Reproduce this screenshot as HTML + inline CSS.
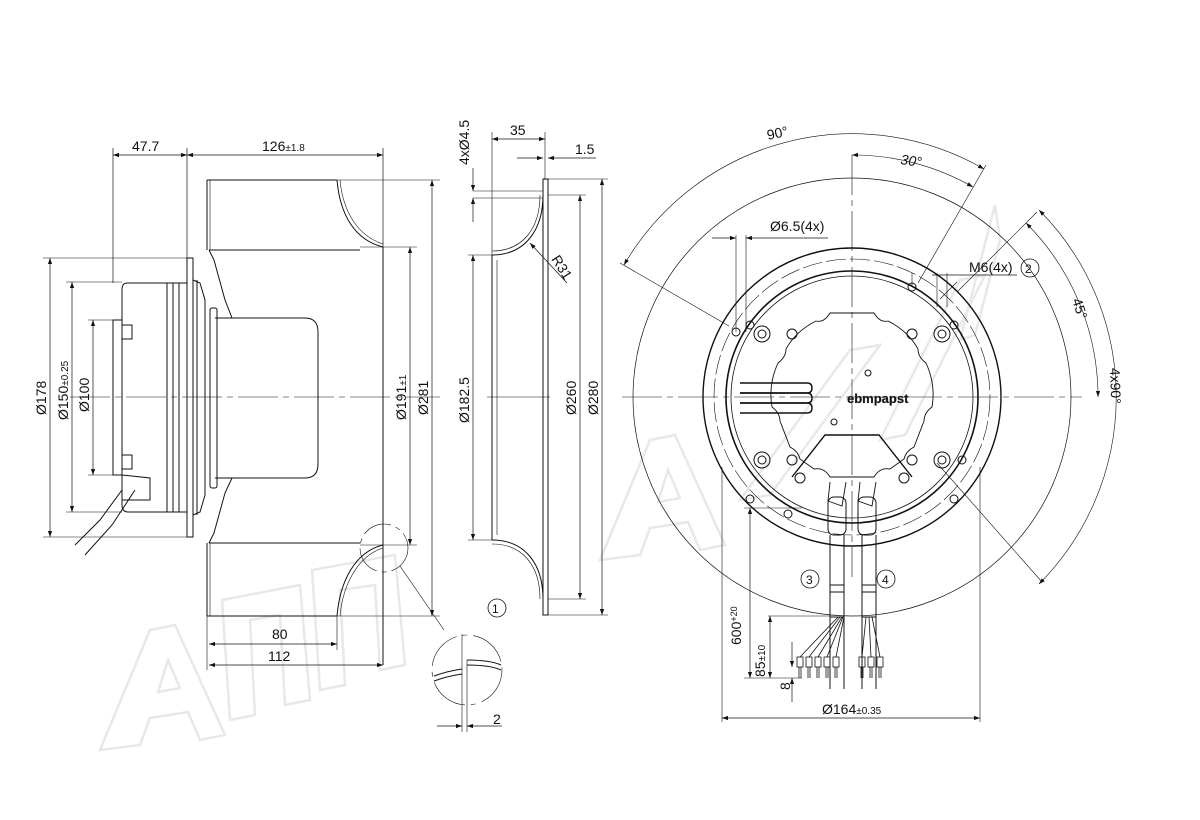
<!DOCTYPE html>
<html><head><meta charset="utf-8"><style>
html,body{margin:0;padding:0;background:#fff;}
svg{display:block;}
text{font-family:"Liberation Sans",sans-serif;fill:#111;}
</style></head><body>
<svg width="1200" height="820" viewBox="0 0 1200 820" xmlns="http://www.w3.org/2000/svg">
<defs>
<marker id="a" viewBox="0 0 10 10" refX="10" refY="5" markerWidth="9" markerHeight="6" orient="auto-start-reverse" markerUnits="userSpaceOnUse"><path d="M0,1.5 L10,5 L0,8.5 Z" fill="#111"/></marker>
</defs>
<!-- watermark -->
<g fill="none" stroke="#e8e8e8" stroke-width="2.5" stroke-linejoin="miter">
<path d="M100,750 L150,630 L175,625 L225,735 L200,740 L188,712 L150,718 L140,745 Z M158,692 L180,688 L168,660 Z"/>
<path d="M230,720 L222,600 L300,585 L310,700 L285,705 L280,615 L250,620 L255,715 Z"/>
<path d="M320,690 L312,570 L395,555 L405,665 L380,670 L375,585 L340,590 L345,685 Z"/>
<path d="M600,560 L650,440 L675,435 L725,545 L700,550 L688,522 L650,528 L640,555 Z M658,502 L680,498 L668,470 Z"/>
<path d="M740,500 L850,350 L880,345 L770,495 Z"/>
<path d="M880,440 L960,280 L985,275 L905,435 Z"/>
<path d="M960,340 L995,205 L1000,240 L975,335 Z"/>
</g>
<g fill="none" stroke="#111" stroke-width="1">
<!-- ===== LEFT VIEW ===== -->
<line x1="113" y1="148" x2="113" y2="283" stroke-width="0.7"/>
<line x1="187" y1="148" x2="187" y2="258" stroke-width="0.7"/>
<line x1="383" y1="148" x2="383" y2="247" stroke-width="0.7"/>
<line x1="113" y1="155" x2="187" y2="155" stroke-width="0.7" marker-start="url(#a)" marker-end="url(#a)"/>
<line x1="187" y1="155" x2="383" y2="155" stroke-width="0.7" marker-start="url(#a)" marker-end="url(#a)"/>
<line x1="207" y1="180" x2="337" y2="180"/>
<path d="M337,180 C340,215 355,240 383,247"/>
<path d="M340,180 C343,212 358,236 383,244" stroke-width="0.6"/>
<line x1="209" y1="250" x2="360" y2="250"/>
<line x1="207" y1="180" x2="207" y2="250"/>
<line x1="210" y1="180" x2="210" y2="250" stroke-width="0.6"/>
<line x1="207" y1="616" x2="337" y2="616"/>
<path d="M337,616 C340,581 355,552 383,545"/>
<path d="M340,616 C343,584 358,556 383,548" stroke-width="0.6"/>
<line x1="209" y1="543" x2="360" y2="543"/>
<line x1="207" y1="543" x2="207" y2="616"/>
<line x1="210" y1="543" x2="210" y2="616" stroke-width="0.6"/>
<line x1="383" y1="247" x2="383" y2="665"/>
<path d="M209,250 L214,260 L225,300 L232,318 L258,318"/>
<path d="M209,543 L214,533 L225,493 L232,478 L258,478"/>
<path d="M215,318 L305,318 Q318,318 318,332 L318,464 Q318,478 305,478 L215,478"/>
<rect x="210" y="308" width="7" height="180" rx="2"/>
<rect x="187" y="258" width="6" height="279"/>
<path d="M193,280 L200,283 L205,300 L205,495 L200,512 L193,515"/>
<line x1="197" y1="280" x2="197" y2="515"/>
<path d="M187,283 L127,283 Q122,283 122,290 L122,505 Q122,512 128,512 L187,512"/>
<line x1="167" y1="283" x2="167" y2="512"/>
<line x1="173" y1="283" x2="173" y2="512"/>
<line x1="179" y1="283" x2="179" y2="512"/>
<rect x="113" y="320" width="9" height="155"/>
<rect x="122" y="325" width="10" height="14"/>
<rect x="122" y="455" width="10" height="14"/>
<path d="M122,475 L150,478 L150,500 L122,500"/>
<path d="M122,490 L100,520 L75,545 M135,490 L112,525 L85,555"/>
<line x1="43" y1="258" x2="187" y2="258" stroke-width="0.6"/>
<line x1="43" y1="537" x2="187" y2="537" stroke-width="0.6"/>
<line x1="50" y1="258" x2="50" y2="537" stroke-width="0.7" marker-start="url(#a)" marker-end="url(#a)"/>
<line x1="66" y1="282" x2="122" y2="282" stroke-width="0.6"/>
<line x1="66" y1="512" x2="122" y2="512" stroke-width="0.6"/>
<line x1="72" y1="282" x2="72" y2="512" stroke-width="0.7" marker-start="url(#a)" marker-end="url(#a)"/>
<line x1="88" y1="320" x2="113" y2="320" stroke-width="0.6"/>
<line x1="88" y1="475" x2="113" y2="475" stroke-width="0.6"/>
<line x1="93" y1="320" x2="93" y2="475" stroke-width="0.7" marker-start="url(#a)" marker-end="url(#a)"/>
<line x1="360" y1="247" x2="417" y2="247" stroke-width="0.6"/>
<line x1="360" y1="545" x2="417" y2="545" stroke-width="0.6"/>
<line x1="410" y1="247" x2="410" y2="545" stroke-width="0.7" marker-start="url(#a)" marker-end="url(#a)"/>
<line x1="337" y1="180" x2="440" y2="180" stroke-width="0.6"/>
<line x1="337" y1="616" x2="440" y2="616" stroke-width="0.6"/>
<line x1="432" y1="180" x2="432" y2="616" stroke-width="0.7" marker-start="url(#a)" marker-end="url(#a)"/>
<line x1="70" y1="397" x2="440" y2="397" stroke-width="0.6" stroke-dasharray="40,5,6,5"/>
<line x1="337" y1="616" x2="337" y2="650" stroke-width="0.6"/>
<line x1="207" y1="616" x2="207" y2="670" stroke-width="0.6"/>
<line x1="209" y1="644" x2="337" y2="644" stroke-width="0.7" marker-start="url(#a)" marker-end="url(#a)"/>
<line x1="209" y1="665" x2="383" y2="665" stroke-width="0.7" marker-start="url(#a)" marker-end="url(#a)"/>
<circle cx="384" cy="548" r="24" stroke-width="0.6" stroke-dasharray="30,5,5,5"/>
<line x1="400" y1="566" x2="444" y2="630" stroke-width="0.6"/>
<circle cx="497" cy="608" r="9" stroke-width="0.8"/>
<circle cx="467" cy="670" r="35" stroke-width="0.6" stroke-dasharray="40,6,5,6"/>
<line x1="462" y1="634" x2="462" y2="732" stroke-width="0.6"/>
<line x1="467" y1="660" x2="467" y2="732" stroke-width="0.6"/>
<path d="M467,660 C480,660 492,661 501,665 M467,665 C480,665 492,666 501,670"/>
<path d="M434,676 C445,672 455,670 462,669 M434,681 C445,677 455,675 462,674"/>
<line x1="437" y1="726" x2="462" y2="726" stroke-width="0.7" marker-end="url(#a)"/>
<line x1="492" y1="726" x2="467" y2="726" stroke-width="0.7" marker-end="url(#a)"/>
<line x1="492" y1="726" x2="502" y2="726" stroke-width="0.7"/>
<!-- ===== MIDDLE VIEW ===== -->
<line x1="492" y1="132" x2="492" y2="255" stroke-width="0.6"/>
<line x1="545" y1="132" x2="545" y2="180" stroke-width="0.6"/>
<line x1="492" y1="139" x2="545" y2="139" stroke-width="0.7" marker-start="url(#a)" marker-end="url(#a)"/>
<line x1="517" y1="158" x2="543" y2="158" stroke-width="0.7" marker-end="url(#a)"/>
<line x1="596" y1="158" x2="548" y2="158" stroke-width="0.7" marker-end="url(#a)"/>
<rect x="543" y="179" width="5" height="436"/>
<path d="M543,195 C543,230 525,255 492,255"/>
<path d="M540,195 C540,228 523,251 492,251" stroke-width="0.6"/>
<path d="M543,599 C543,564 525,540 492,540"/>
<path d="M540,599 C540,566 523,544 492,544" stroke-width="0.6"/>
<line x1="492" y1="255" x2="492" y2="540"/>
<line x1="497" y1="260" x2="497" y2="535" stroke-width="0.6"/>
<line x1="473" y1="191" x2="543" y2="191" stroke-width="0.6"/>
<line x1="473" y1="198" x2="543" y2="198" stroke-width="0.6"/>
<line x1="473" y1="168" x2="473" y2="191" stroke-width="0.7" marker-end="url(#a)"/>
<line x1="473" y1="222" x2="473" y2="198" stroke-width="0.7" marker-end="url(#a)"/>
<line x1="468" y1="255" x2="492" y2="255" stroke-width="0.6"/>
<line x1="468" y1="540" x2="492" y2="540" stroke-width="0.6"/>
<line x1="473" y1="255" x2="473" y2="540" stroke-width="0.7" marker-start="url(#a)" marker-end="url(#a)"/>
<line x1="548" y1="195" x2="586" y2="195" stroke-width="0.6"/>
<line x1="548" y1="599" x2="586" y2="599" stroke-width="0.6"/>
<line x1="580" y1="195" x2="580" y2="599" stroke-width="0.7" marker-start="url(#a)" marker-end="url(#a)"/>
<line x1="548" y1="179" x2="608" y2="179" stroke-width="0.6"/>
<line x1="548" y1="615" x2="608" y2="615" stroke-width="0.6"/>
<line x1="602" y1="179" x2="602" y2="615" stroke-width="0.7" marker-start="url(#a)" marker-end="url(#a)"/>
<line x1="487" y1="397" x2="550" y2="397" stroke-width="0.6"/>
<line x1="567" y1="283" x2="530" y2="243" stroke-width="0.7" marker-end="url(#a)"/>
<!-- ===== RIGHT VIEW ===== -->
<g transform="translate(852,397)">
<circle r="219" stroke-width="0.7"/>
<circle r="149" stroke-width="1.4"/>
<circle r="138" stroke-width="0.6" stroke-dasharray="20,4"/>
<circle r="126" stroke-width="1.6"/>
<circle r="121" stroke-width="0.8"/>
<path d="M-22,-84 L22,-84 Q28,-74 36,-76 Q56,-66 66,-48 Q66,-40 74,-34 Q84,-12 80,10 Q72,16 72,24 L62,50 Q54,54 52,62 L38,72 Q28,70 22,80 L-22,80 Q-28,70 -38,72 L-52,62 Q-54,54 -62,50 L-72,24 Q-72,16 -80,10 Q-84,-12 -74,-34 Q-66,-40 -66,-48 Q-56,-66 -36,-76 Q-28,-74 -22,-84 Z" stroke-width="0.9"/>
<g stroke-width="1.4">
<path d="M-112,-14 L-45,-14 Q-40,-14 -40,-9 Q-40,-4 -45,-4 L-112,-4"/>
<path d="M-112,-4 L-45,-4 Q-40,-4 -40,1 Q-40,6 -45,6 L-112,6"/>
<path d="M-112,6 L-45,6 Q-40,6 -40,11 Q-40,16 -45,16 L-112,16"/>
</g>
<path d="M-60,80 L-27,38 L27,38 L60,80" stroke-width="1.4"/>
<g stroke-width="1">
<circle cx="-90" cy="-63" r="8"/><circle cx="-90" cy="-63" r="4"/>
<circle cx="90" cy="-63" r="8"/><circle cx="90" cy="-63" r="4"/>
<circle cx="-90" cy="63" r="8"/><circle cx="-90" cy="63" r="4"/>
<circle cx="90" cy="63" r="8"/><circle cx="90" cy="63" r="4"/>
<circle cx="-60" cy="-63" r="5"/><circle cx="60" cy="-63" r="5"/>
<circle cx="-60" cy="63" r="5"/><circle cx="60" cy="63" r="5"/>
<circle cx="-52" cy="81" r="5"/><circle cx="52" cy="81" r="5"/>
<circle cx="16" cy="-24" r="3"/><circle cx="-18" cy="25" r="3"/>
<circle cx="-102" cy="-72" r="4"/><circle cx="102" cy="-72" r="4"/>
<circle cx="-102" cy="102" r="4"/><circle cx="102" cy="102" r="4"/>
<circle cx="-116" cy="-65" r="4"/><circle cx="60" cy="-110" r="4"/>
<circle cx="110" cy="63" r="4"/><circle cx="-64" cy="117" r="4"/>
</g>
<line x1="-230" y1="0" x2="230" y2="0" stroke-width="0.6" stroke-dasharray="40,5,6,5"/>
<line x1="0" y1="-242" x2="0" y2="180" stroke-width="0.6" stroke-dasharray="40,5,6,5"/>
<path d="M-228,-132 A264,264 0 0 1 132,-228" stroke-width="0.6" marker-start="url(#a)" marker-end="url(#a)"/>
<line x1="-123" y1="-71" x2="-232" y2="-134" stroke-width="0.6"/>
<line x1="66" y1="-114" x2="134" y2="-232" stroke-width="0.6"/>
<path d="M0,-242 A242,242 0 0 1 121,-210" stroke-width="0.6" marker-start="url(#a)" marker-end="url(#a)"/>
<line x1="85" y1="66" x2="190" y2="185" stroke-width="0.6"/>
<line x1="105" y1="-105" x2="185" y2="-185" stroke-width="0.6"/>
<path d="M174,-174 A246,246 0 0 1 246,0" stroke-width="0.6" marker-start="url(#a)" marker-end="url(#a)"/>
<path d="M187,-187 A265,265 0 0 1 187,187" stroke-width="0.6" marker-start="url(#a)" marker-end="url(#a)"/>
<line x1="-116" y1="-65" x2="-116" y2="-162" stroke-width="0.6"/>
<line x1="-106" y1="-65" x2="-106" y2="-162" stroke-width="0.6"/>
<line x1="-140" y1="-159" x2="-116" y2="-159" stroke-width="0.7" marker-end="url(#a)"/>
<line x1="-24" y1="-159" x2="-106" y2="-159" stroke-width="0.7" marker-end="url(#a)"/>
<line x1="60" y1="-110" x2="60" y2="-124" stroke-width="0.6"/>
<line x1="85" y1="-90" x2="85" y2="-124" stroke-width="0.6"/>
<line x1="95" y1="-90" x2="95" y2="-124" stroke-width="0.6"/>
<line x1="165" y1="-122" x2="80" y2="-122" stroke-width="0.7"/>
<line x1="105" y1="-115" x2="88" y2="-98" stroke-width="0.6"/>
<circle cx="178" cy="-129" r="9" stroke-width="0.8"/>
<path d="M-22,85 L-24,104 L-10,109 L-6,85 M8,85 L6,104 L20,109 L24,85" stroke-width="0.9"/>
<rect x="-24" y="100" width="18" height="38" rx="6"/>
<rect x="6" y="100" width="18" height="38" rx="6"/>
<line x1="-22" y1="138" x2="-22" y2="292"/><line x1="-8" y1="138" x2="-8" y2="292"/>
<line x1="10" y1="138" x2="10" y2="292"/><line x1="24" y1="138" x2="24" y2="292"/>
<line x1="-22" y1="188" x2="-8" y2="188"/><line x1="-22" y1="195" x2="-8" y2="195"/>
<line x1="10" y1="188" x2="24" y2="188"/><line x1="10" y1="195" x2="24" y2="195"/>
<line x1="-22" y1="220" x2="-8" y2="220"/><line x1="10" y1="220" x2="24" y2="220"/>
<circle cx="-42" cy="182" r="9" stroke-width="0.8"/>
<circle cx="34" cy="182" r="9" stroke-width="0.8"/>
<g stroke-width="0.8">
<path d="M-14,220 L-52,260 M-12,220 L-43,260 M-10,220 L-34,260 M-9,220 L-25,260 M-8,220 L-16,260"/>
<path d="M14,220 L10,260 M17,220 L19,260 M20,220 L28,260"/>
<rect x="-55" y="260" width="6" height="10"/><rect x="-46" y="260" width="6" height="10"/><rect x="-37" y="260" width="6" height="10"/><rect x="-28" y="260" width="6" height="10"/><rect x="-19" y="260" width="6" height="10"/>
<rect x="7" y="260" width="6" height="10"/><rect x="16" y="260" width="6" height="10"/><rect x="25" y="260" width="6" height="10"/>
<path d="M-53,270 v11 M-51,270 v11 M-44,270 v11 M-42,270 v11 M-35,270 v11 M-33,270 v11 M-26,270 v11 M-24,270 v11 M-17,270 v11 M-15,270 v11 M9,270 v11 M11,270 v11 M18,270 v11 M20,270 v11 M27,270 v11 M29,270 v11"/>
</g>
<line x1="-108" y1="111" x2="-50" y2="111" stroke-width="0.6"/>
<line x1="-84" y1="219" x2="-22" y2="219" stroke-width="0.6"/>
<line x1="-108" y1="281" x2="-50" y2="281" stroke-width="0.6"/>
<line x1="-102" y1="111" x2="-102" y2="281" stroke-width="0.7" marker-start="url(#a)" marker-end="url(#a)"/>
<line x1="-82" y1="219" x2="-82" y2="281" stroke-width="0.7" marker-start="url(#a)" marker-end="url(#a)"/>
<line x1="-60" y1="245" x2="-60" y2="270" stroke-width="0.7" marker-end="url(#a)"/>
<line x1="-60" y1="305" x2="-60" y2="281" stroke-width="0.7" marker-end="url(#a)"/>
<line x1="-130" y1="70" x2="-130" y2="325" stroke-width="0.6"/>
<line x1="128" y1="70" x2="128" y2="325" stroke-width="0.6"/>
<line x1="-130" y1="321" x2="128" y2="321" stroke-width="0.7" marker-start="url(#a)" marker-end="url(#a)"/>
</g>
</g>
<g font-size="14">
<text x="132" y="151">47.7</text>
<text x="262" y="151">126<tspan font-size="10">±1.8</tspan></text>
<text x="272" y="639">80</text>
<text x="268" y="661">112</text>
<text x="493" y="724">2</text>
<text x="492" y="613" font-size="12">1</text>
<text transform="translate(46,415) rotate(-90)">Ø178</text>
<text transform="translate(68,420) rotate(-90)">Ø150<tspan font-size="10">±0.25</tspan></text>
<text transform="translate(89,412) rotate(-90)">Ø100</text>
<text transform="translate(406,420) rotate(-90)">Ø191<tspan font-size="10">±1</tspan></text>
<text transform="translate(428,415) rotate(-90)">Ø281</text>
<text x="510" y="135">35</text>
<text x="575" y="154">1.5</text>
<text transform="translate(469,165) rotate(-90)">4xØ4.5</text>
<text transform="translate(551,259) rotate(58)">R31</text>
<text transform="translate(469,423) rotate(-90)">Ø182.5</text>
<text transform="translate(576,415) rotate(-90)">Ø260</text>
<text transform="translate(598,415) rotate(-90)">Ø280</text>
<text transform="translate(768,140) rotate(-12)">90°</text>
<text transform="translate(900,164) rotate(8)" font-style="italic">30°</text>
<text x="770" y="231">Ø6.5(4x)</text>
<text x="969" y="272">M6(4x)</text>
<text x="1025" y="273" font-size="12">2</text>
<text transform="translate(1072,300) rotate(72)">45°</text>
<text transform="translate(1110,368) rotate(88)">4x90°</text>
<text x="847" y="403" font-size="13" font-weight="bold" fill="#666" stroke="#333" stroke-width="0.3">ebmpapst</text>
<text x="806" y="584" font-size="12">3</text>
<text x="882" y="584" font-size="12">4</text>
<text transform="translate(741,645) rotate(-90)">600<tspan font-size="9" dy="-4">+20</tspan></text>
<text transform="translate(765,677) rotate(-90)">85<tspan font-size="10">±10</tspan></text>
<text transform="translate(790,690) rotate(-90)">8</text>
<text x="822" y="714">Ø164<tspan font-size="10">±0.35</tspan></text>
</g>
</svg>
</body></html>
